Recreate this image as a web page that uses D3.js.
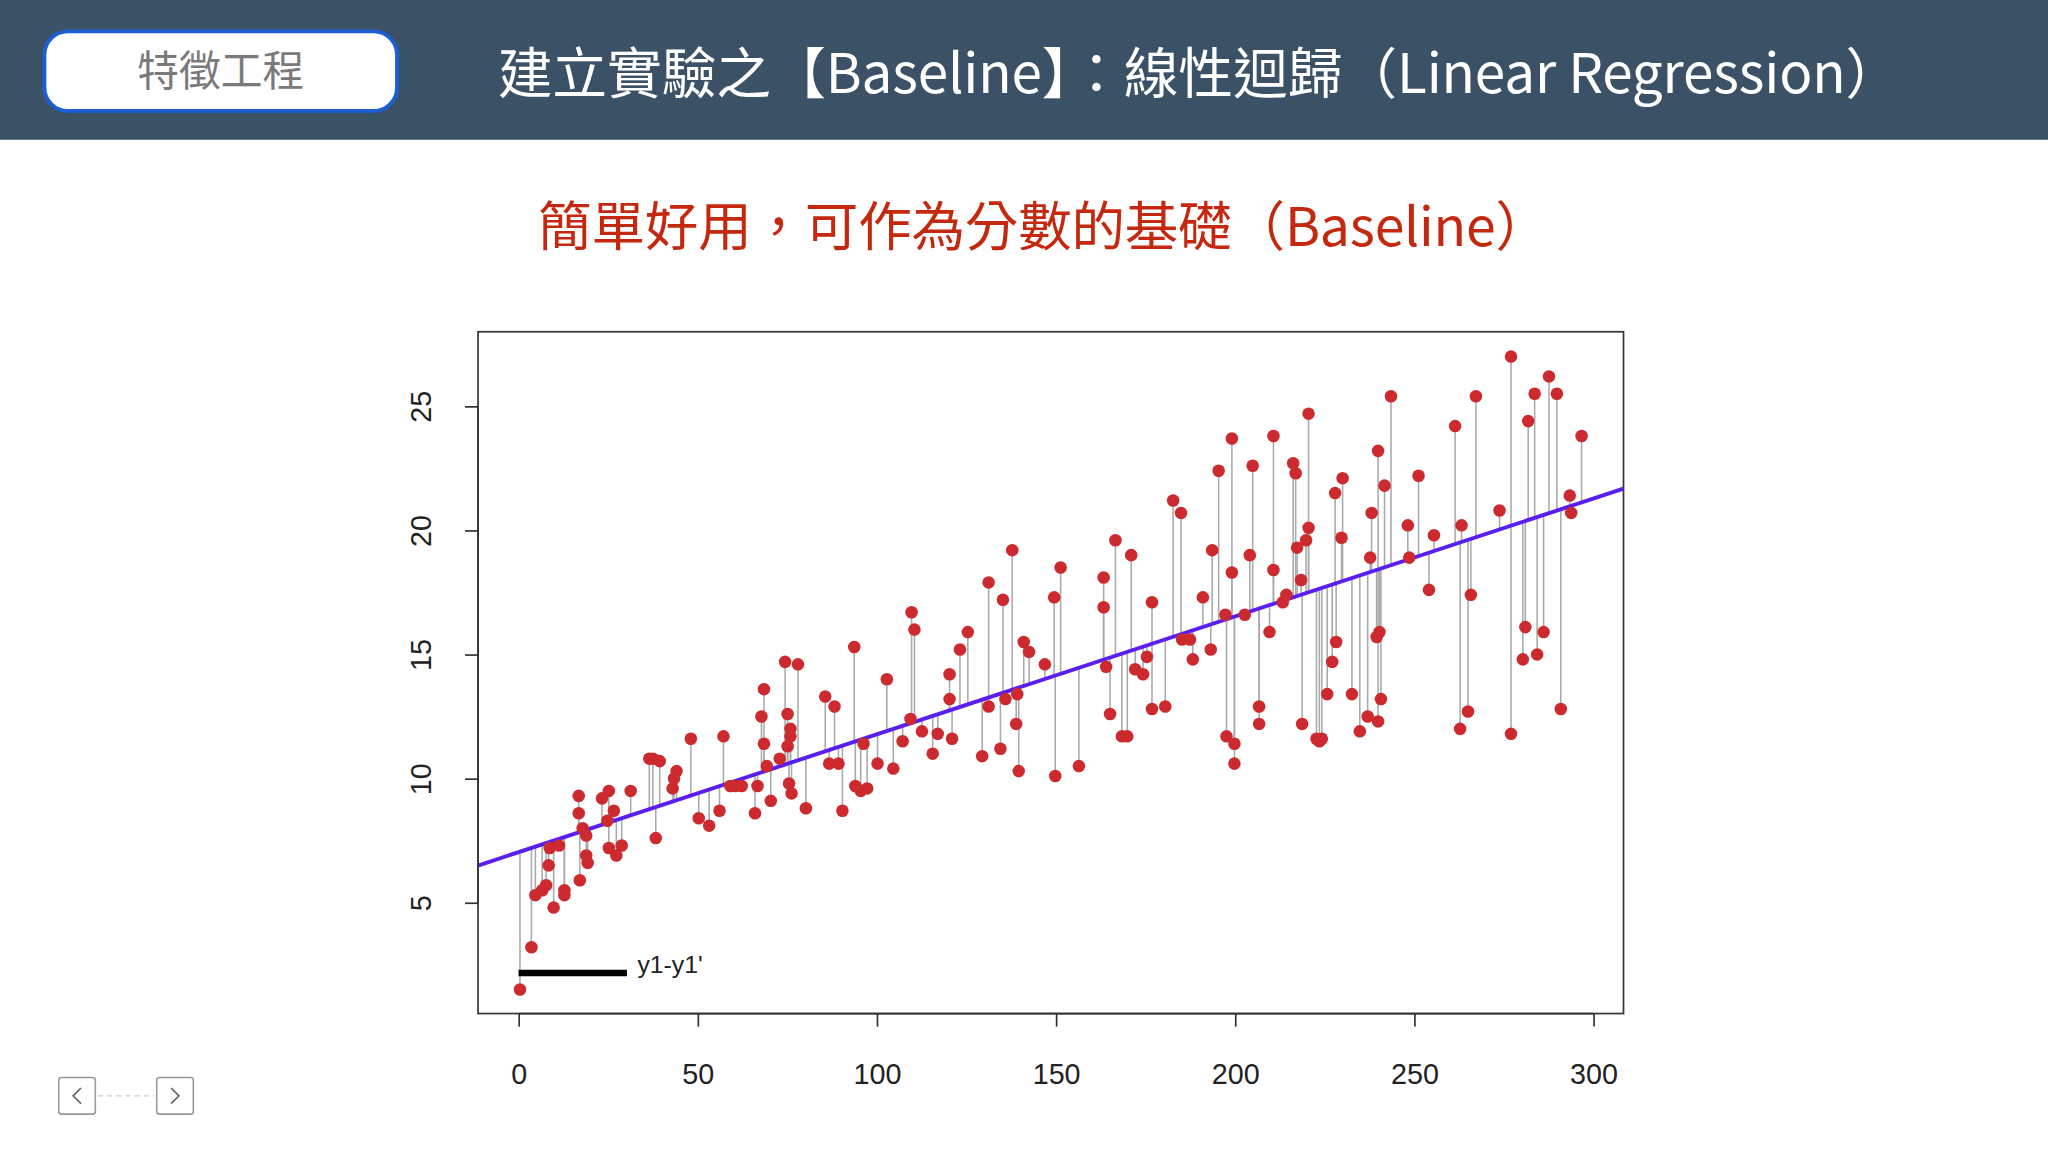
<!DOCTYPE html>
<html><head><meta charset="utf-8">
<script src="https://cdn.jsdelivr.net/npm/d3@7"></script>
<style>body{margin:0;background:#fff}svg{display:block}</style>
</head><body>
<script>
// TV spend vs sales
var tv = [0.4,3.6,4.7,6.6,7.7,8.4,8.7,9.8,11.3,12.8,12.8,16.8,16.8,17.9,17.1,18.9,18.9,19.3,23.3,25.2,24.8,26.6,25.2,27.3,28.8,31.3,36.5,37.5,39.4,38.3,43,43.4,44.1,48.1,50.3,53.2,56.1,57.2,59.1,60.5,62.3,66,66.7,67.8,68.5,68.5,69.3,70.4,72.9,74.4,75.1,75.1,75.9,75.9,75.5,76.2,78,80.2,85.6,86.7,88.2,89.3,90.4,93.7,94,95.5,96.3,97.3,102.8,100.2,104.6,107.2,109.7,110.5,109.4,112.6,115.6,117,120.3,120.3,121,123.2,125.4,129.4,131.2,131.2,134.5,135.2,135.9,137.8,138.9,139.2,139.6,141,142.5,146.9,149.5,149.8,151.3,156.4,163.3,163.3,164,165.1,166.6,168.4,169.9,171,172.1,174.3,175.4,176.8,176.8,180.5,182.7,184.9,185.2,187.4,188.2,191,193.2,193.6,195.4,197.3,197.6,199.1,199.1,199.8,199.8,202.7,204.1,204.9,206.7,206.7,209.6,210.7,210.7,213.3,214.3,216.2,216.9,217.3,218.4,218.7,219.8,220.5,220.5,222.7,223.5,224.2,225.7,227.1,227.9,228.2,229.7,230,232.6,234.8,237,237.7,238.1,239.5,240.3,239.9,240.7,239.9,241.7,243.5,248.2,248.6,251.2,254.1,255.5,261.4,262.8,263.2,265,265.8,267.2,273.8,277,277,280.3,281,281.8,283.6,284.3,286.1,287.6,289.8,290.9,293.4,293.8,296.7];
var sales = [1.5,3.2,5.3,5.5,5.7,6.5,7.2,4.8,7.3,5.5,5.3,9.3,8.6,8.0,5.9,7.7,6.9,6.6,9.2,9.5,8.3,8.7,7.2,6.9,7.3,9.5,10.8,10.8,10.7,7.6,9.6,10,10.3,11.6,8.4,8.1,8.7,11.7,9.7,9.7,9.7,8.6,9.7,12.5,13.6,11.4,10.5,9.1,10.8,14.7,12.6,11.3,12.0,11.7,9.8,9.4,14.6,8.8,13.3,10.6,12.9,10.6,8.7,15.3,9.7,9.5,11.4,9.6,14.0,10.6,10.4,11.5,16.7,16.0,12.4,11.9,11.0,11.8,14.2,13.2,11.6,15.2,15.9,10.9,17.9,12.9,11.2,17.2,13.2,19.2,12.2,13.4,10.3,15.5,15.1,14.6,17.3,10.1,18.5,10.5,18.1,16.9,14.5,12.6,19.6,11.7,11.7,19,14.4,14.2,14.9,17.1,12.8,12.9,21.2,20.7,15.6,15.6,14.8,17.3,15.2,19.2,22.4,16.6,11.7,23.7,18.3,11.4,10.6,16.6,19.0,22.6,12.9,12.2,15.9,23.8,18.4,17.1,17.4,22.7,22.3,19.3,18.0,12.2,19.6,24.7,20.1,11.6,11.5,11.6,13.4,14.7,21.5,15.5,19.7,22.1,13.4,11.9,12.5,18.9,20.7,15.7,15.9,12.3,13.2,23.2,21.8,25.4,20.2,18.9,22.2,17.6,19.8,24.2,12.0,20.2,12.7,17.4,25.4,20.8,27.0,11.8,14.8,16.1,24.4,25.5,15.0,15.9,26.2,25.5,12.8,21.4,20.7,23.8];
var fit = {intercept: 7.03, slope: 0.0475};
var xTicks = [0,50,100,150,200,250,300];
var yTicks = [5,10,15,20,25];

var svg = d3.select("body").append("svg")
  .attr("width", 2048).attr("height", 1152)
  .attr("viewBox", "0 0 1568 882");

// header
svg.append("rect").attr("width", 1568).attr("height", 107).attr("fill", "#3b5165");
svg.append("rect").attr("x", 34).attr("y", 24).attr("width", 270).attr("height", 61)
  .attr("rx", 18).attr("fill", "#fff").attr("stroke", "#1c5fd3").attr("stroke-width", 3);
svg.append("text").attr("x", 169).attr("y", 66).attr("text-anchor", "middle")
  .attr("font-family", "Noto Sans CJK TC").attr("font-size", 32).attr("fill", "#7a7a7a")
  .text("特徵工程");
svg.append("text").attr("x", 381).attr("y", 71)
  .attr("font-family", "Noto Sans CJK TC").attr("font-size", 42).attr("fill", "#fff")
  .attr("textLength", 1074).attr("lengthAdjust", "spacing")
  .text("建立實驗之【Baseline】：線性迴歸（Linear Regression）");
svg.append("text").attr("x", 412).attr("y", 188)
  .attr("font-family", "Noto Sans CJK TC").attr("font-size", 41).attr("fill", "#c4280f")
  .attr("textLength", 774).attr("lengthAdjust", "spacing")
  .text("簡單好用，可作為分數的基礎（Baseline）");

// plot
var L = 366, R = 1243, T = 254, B = 776;
var x = d3.scaleLinear().domain([-11.3, 308.4]).range([L, R]);
var y = d3.scaleLinear().domain([0.53, 28.0]).range([B, T]);
var pred = d => fit.intercept + fit.slope * d;

svg.append("rect").attr("x", L).attr("y", T).attr("width", R - L).attr("height", B - T)
  .attr("fill", "none").attr("stroke", "#333").attr("stroke-width", 1.3);

var pts = tv.map((d, i) => ({x: d, y: sales[i]}));
svg.append("g").selectAll("line").data(pts).join("line")
  .attr("x1", d => x(d.x)).attr("x2", d => x(d.x))
  .attr("y1", d => y(d.y)).attr("y2", d => y(pred(d.x)))
  .attr("stroke", "#aaa").attr("stroke-width", 1.2);

svg.append("line")
  .attr("x1", x(-11.3)).attr("y1", y(pred(-11.3)))
  .attr("x2", x(308.4)).attr("y2", y(pred(308.4)))
  .attr("stroke", "#5a1ef0").attr("stroke-width", 3);

svg.append("g").selectAll("circle").data(pts).join("circle")
  .attr("cx", d => x(d.x)).attr("cy", d => y(d.y)).attr("r", 4.8)
  .attr("fill", "#cc2a2f");

// axes
var xa = svg.append("g").attr("transform", `translate(0,${B})`)
  .call(d3.axisBottom(x).tickValues(xTicks).tickSize(10).tickPadding(28));
xa.select(".domain").attr("d", `M${x(0)},0H${x(300)}`);
var ya = svg.append("g").attr("transform", `translate(${L},0)`)
  .call(d3.axisLeft(y).tickValues(yTicks).tickSize(10).tickPadding(14));
ya.select(".domain").attr("d", `M0,${y(5)}V${y(25)}`);
ya.selectAll(".tick text").attr("transform", "rotate(-90)").attr("text-anchor", "middle")
  .attr("x", 0).attr("y", -44).attr("dy", "0.35em");
svg.selectAll(".tick text").attr("font-family", "Liberation Sans, Arial").attr("font-size", 22).attr("fill", "#222");
svg.selectAll(".tick line, .domain").attr("stroke", "#333").attr("stroke-width", 1.3);

// legend
svg.append("line").attr("x1", 397).attr("x2", 480).attr("y1", 745).attr("y2", 745)
  .attr("stroke", "#000").attr("stroke-width", 5);
svg.append("text").attr("x", 488).attr("y", 745).attr("font-family", "Liberation Sans, Arial")
  .attr("font-size", 19).attr("fill", "#222").text("y1-y1'");

// nav buttons
var nav = svg.append("g").attr("fill", "#fff").attr("stroke", "#999").attr("stroke-width", 1.2);
nav.append("rect").attr("x", 45).attr("y", 825).attr("width", 28).attr("height", 28).attr("rx", 2);
nav.append("rect").attr("x", 120).attr("y", 825).attr("width", 28).attr("height", 28).attr("rx", 2);
svg.append("line").attr("x1", 75).attr("x2", 118).attr("y1", 839).attr("y2", 839)
  .attr("stroke", "#ccc").attr("stroke-dasharray", "4,3");
svg.append("path").attr("d", "M62,833L56,839L62,845M131,833L137,839L131,845")
  .attr("fill", "none").attr("stroke", "#666").attr("stroke-width", 1.3);
</script>
</body></html>
